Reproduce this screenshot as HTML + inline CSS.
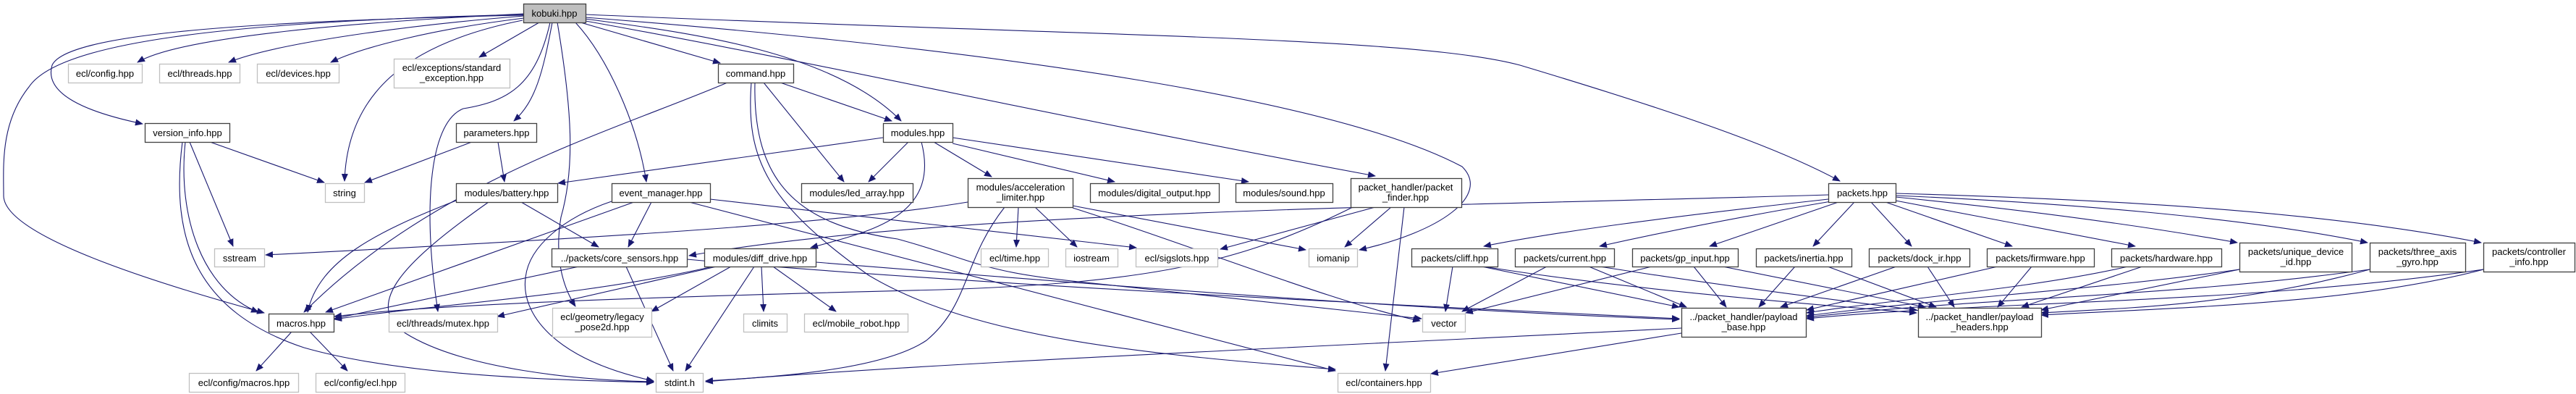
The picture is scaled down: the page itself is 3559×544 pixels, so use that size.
<!DOCTYPE html>
<html><head><meta charset="utf-8"><style>
html,body{margin:0;padding:0;background:#fff;width:3559px;height:544px;overflow:hidden}
svg{display:block}
text{font-family:"Liberation Sans",Arial,sans-serif;font-size:13px;fill:#000;text-anchor:middle}
.n{fill:#fff;stroke:#404040;stroke-width:1.3}
.g{fill:#fff;stroke:#bfbfbf;stroke-width:1.3}
.k{fill:#bfbfbf;stroke:#404040;stroke-width:1.3}
path.e{fill:none;stroke:#191970;stroke-width:1.1}
</style></head><body>
<svg width="3559" height="544" viewBox="0 0 3559 544" xmlns="http://www.w3.org/2000/svg">
<defs><marker id="a" markerUnits="userSpaceOnUse" markerWidth="11" markerHeight="9" refX="10" refY="4.5" orient="auto"><path d="M0,0 L11,4.5 L0,9 z" fill="#191970"/></marker></defs>
<g marker-end="url(#a)">
<!-- kobuki edges -->
<path class="e" d="M724,19 C500,30 250,50 190,86"/>
<path class="e" d="M724,22 C560,35 380,60 316,86"/>
<path class="e" d="M724,25 C600,40 500,65 457,86"/>
<path class="e" d="M745,31 L662,79"/>
<path class="e" d="M724,21 C300,30 90,50 72,90 C60,130 120,155 197,171"/>
<path class="e" d="M724,20 C300,30 80,60 40,120 C0,170 5,230 5,270 C5,330 250,400 365,432"/>
<path class="e" d="M722,28 C560,60 480,130 476,250"/>
<path class="e" d="M760,31 C740,120 700,140 640,150 C590,170 585,300 605,430"/>
<path class="e" d="M763,31 C750,100 740,140 710,167"/>
<path class="e" d="M770,31 C790,150 795,230 775,300 C765,360 780,400 795,423"/>
<path class="e" d="M795,31 C840,80 880,170 893,251"/>
<path class="e" d="M802,31 L995,87"/>
<path class="e" d="M808,26 C950,45 1150,70 1245,167"/>
<path class="e" d="M809,29 C1150,90 1400,150 1900,243"/>
<path class="e" d="M809,24 C1400,70 1850,140 2020,230 C2060,270 1990,320 1878,345"/>
<path class="e" d="M809,20 C1500,50 1950,50 2100,90 C2300,150 2450,200 2542,250"/>
<!-- version_info -->
<path class="e" d="M290,196 L448,252"/>
<path class="e" d="M262,196 L322,340"/>
<path class="e" d="M256,196 C245,300 280,400 357,431"/>
<path class="e" d="M252,196 C235,330 270,430 420,480 C560,520 780,525 903,528"/>
<!-- parameters -->
<path class="e" d="M652,196 L504,252"/>
<path class="e" d="M688,196 L697,251"/>
<!-- battery -->
<path class="e" d="M630,277 C520,320 440,360 425,431"/>
<path class="e" d="M720,279 L827,341"/>
<path class="e" d="M675,279 C560,360 500,420 560,460 C640,510 800,525 903,527"/>
<!-- event_manager -->
<path class="e" d="M876,279 L450,431"/>
<path class="e" d="M900,279 L868,341"/>
<path class="e" d="M845,278 C780,300 730,340 726,384 C720,430 760,495 903,526"/>
<path class="e" d="M981,275 L1570,342"/>
<path class="e" d="M952,279 L1845,512"/>
<!-- command -->
<path class="e" d="M1005,114 C850,180 600,250 420,431"/>
<path class="e" d="M1078,114 L1232,167"/>
<path class="e" d="M1055,114 L1166,251"/>
<path class="e" d="M1043,114 C1040,250 1100,310 1240,330 C1350,360 1350,375 1500,390 L1964,440"/>
<path class="e" d="M1038,114 C1030,220 1060,280 1200,380 C1350,470 1600,490 1845,510"/>
<!-- modules -->
<path class="e" d="M1220,190 L771,253"/>
<path class="e" d="M1255,196 L1200,251"/>
<path class="e" d="M1273,196 C1300,300 1200,320 1120,342"/>
<path class="e" d="M1290,196 L1370,244"/>
<path class="e" d="M1316,198 L1540,251"/>
<path class="e" d="M1316,190 L1725,251"/>
<!-- core sensors -->
<path class="e" d="M800,368 L462,440"/>
<path class="e" d="M865,368 L930,512"/>
<path class="e" d="M949,358 C1300,390 1900,420 2320,440"/>
<!-- acceleration limiter -->
<path class="e" d="M1337,279 C1150,310 800,330 367,352"/>
<path class="e" d="M1407,286 L1404,341"/>
<path class="e" d="M1430,286 L1488,341"/>
<path class="e" d="M1388,286 C1330,360 1340,420 1280,470 C1220,510 1080,520 975,526"/>
<path class="e" d="M1482,284 L1804,345"/>
<path class="e" d="M1482,287 C1650,340 1850,420 1962,443"/>
<!-- packet finder -->
<path class="e" d="M1922,286 L1858,341"/>
<path class="e" d="M1900,286 L1686,344"/>
<path class="e" d="M1869,286 C1720,360 1600,390 1300,400 C900,410 600,420 462,437"/>
<path class="e" d="M1940,286 L1914,512"/>
<!-- packets -->
<path class="e" d="M2526,269 C2000,285 1300,290 952,353"/>
<path class="e" d="M2526,275 C2300,300 2150,320 2050,340"/>
<path class="e" d="M2530,278 C2400,300 2300,320 2210,340"/>
<path class="e" d="M2540,279 L2362,340"/>
<path class="e" d="M2562,279 L2505,340"/>
<path class="e" d="M2585,279 L2641,340"/>
<path class="e" d="M2605,279 L2780,340"/>
<path class="e" d="M2619,277 L2950,340"/>
<path class="e" d="M2619,272 C2800,290 2950,310 3091,335"/>
<path class="e" d="M2619,270 C2850,280 3100,300 3271,335"/>
<path class="e" d="M2619,267 C2900,275 3200,290 3428,335"/>
<!-- diff_drive -->
<path class="e" d="M985,368 C800,410 600,420 462,441"/>
<path class="e" d="M990,368 C850,400 760,420 687,437"/>
<path class="e" d="M1010,368 L900,430"/>
<path class="e" d="M1042,368 L947,512"/>
<path class="e" d="M1052,368 L1055,430"/>
<path class="e" d="M1068,368 L1155,430"/>
<path class="e" d="M1127,362 C1600,400 2000,430 2320,441"/>
<!-- packet leaves -->
<path class="e" d="M2007,368 L1997,430"/>
<path class="e" d="M2047,368 L2320,424"/>
<path class="e" d="M2050,368 C2250,400 2500,420 2648,432"/>
<path class="e" d="M2137,368 L2020,430"/>
<path class="e" d="M2195,368 L2330,424"/>
<path class="e" d="M2210,368 C2350,390 2500,410 2648,428"/>
<path class="e" d="M2282,368 L2025,432"/>
<path class="e" d="M2340,368 L2385,424"/>
<path class="e" d="M2380,368 L2660,424"/>
<path class="e" d="M2480,368 L2430,424"/>
<path class="e" d="M2525,368 L2675,424"/>
<path class="e" d="M2620,368 L2460,424"/>
<path class="e" d="M2663,368 L2700,424"/>
<path class="e" d="M2760,368 L2496,428"/>
<path class="e" d="M2807,368 L2760,424"/>
<path class="e" d="M2940,368 C2800,400 2600,415 2496,432"/>
<path class="e" d="M2960,368 L2793,424"/>
<path class="e" d="M3094,372 C2900,400 2700,410 2496,436"/>
<path class="e" d="M3094,372 L2820,428"/>
<path class="e" d="M3274,372 C3000,410 2750,410 2496,438"/>
<path class="e" d="M3274,372 C3100,420 2950,425 2820,432"/>
<path class="e" d="M3431,372 C3100,420 2750,415 2496,440"/>
<path class="e" d="M3431,372 C3250,420 3000,425 2820,435"/>
<!-- payload base -->
<path class="e" d="M2323,453 C1800,480 1300,500 975,527"/>
<path class="e" d="M2323,460 L1977,516"/>
<!-- macros -->
<path class="e" d="M403,458 L354,512"/>
<path class="e" d="M428,458 L480,512"/>
</g>
<!-- nodes -->
<rect class="k" x="723.5" y="5.5" width="86" height="26"/><text x="766" y="23">kobuki.hpp</text>
<rect class="g" x="94.5" y="88.5" width="102" height="26"/><text x="145" y="106">ecl/config.hpp</text>
<rect class="g" x="220.5" y="88.5" width="111" height="26"/><text x="276" y="106">ecl/threads.hpp</text>
<rect class="g" x="355.5" y="88.5" width="113" height="26"/><text x="412" y="106">ecl/devices.hpp</text>
<rect class="g" x="544.5" y="81.5" width="160" height="40"/><text x="624" y="98">ecl/exceptions/standard</text><text x="624" y="112">_exception.hpp</text>
<rect class="n" x="992.5" y="88.5" width="104" height="26"/><text x="1044" y="106">command.hpp</text>
<rect class="n" x="200.5" y="170.5" width="117" height="26"/><text x="259" y="188">version_info.hpp</text>
<rect class="n" x="630.5" y="170.5" width="111" height="26"/><text x="686" y="188">parameters.hpp</text>
<rect class="n" x="1220.5" y="170.5" width="96" height="26"/><text x="1268" y="188">modules.hpp</text>
<rect class="g" x="449.5" y="253.5" width="54" height="26"/><text x="476" y="271">string</text>
<rect class="n" x="630.5" y="253.5" width="140" height="26"/><text x="700" y="271">modules/battery.hpp</text>
<rect class="n" x="845.5" y="253.5" width="136" height="26"/><text x="913" y="271">event_manager.hpp</text>
<rect class="n" x="1107.5" y="253.5" width="154" height="26"/><text x="1184" y="271">modules/led_array.hpp</text>
<rect class="n" x="1337.5" y="246.5" width="145" height="40"/><text x="1410" y="263">modules/acceleration</text><text x="1410" y="277">_limiter.hpp</text>
<rect class="n" x="1506.5" y="253.5" width="178" height="26"/><text x="1595" y="271">modules/digital_output.hpp</text>
<rect class="n" x="1707.5" y="253.5" width="134" height="26"/><text x="1774" y="271">modules/sound.hpp</text>
<rect class="n" x="1866.5" y="246.5" width="153" height="40"/><text x="1942" y="263">packet_handler/packet</text><text x="1942" y="277">_finder.hpp</text>
<rect class="n" x="2526.5" y="253.5" width="93" height="26"/><text x="2573" y="271">packets.hpp</text>
<rect class="g" x="296.5" y="343.5" width="69" height="25"/><text x="331" y="361">sstream</text>
<rect class="n" x="762.5" y="343.5" width="187" height="25"/><text x="856" y="361">../packets/core_sensors.hpp</text>
<rect class="n" x="973.5" y="343.5" width="154" height="25"/><text x="1050" y="361">modules/diff_drive.hpp</text>
<rect class="g" x="1355.5" y="343.5" width="93" height="25"/><text x="1402" y="361">ecl/time.hpp</text>
<rect class="g" x="1472.5" y="343.5" width="72" height="25"/><text x="1508" y="361">iostream</text>
<rect class="g" x="1569.5" y="343.5" width="113" height="25"/><text x="1626" y="361">ecl/sigslots.hpp</text>
<rect class="g" x="1808.5" y="343.5" width="67" height="25"/><text x="1842" y="361">iomanip</text>
<rect class="n" x="1950.5" y="343.5" width="119" height="25"/><text x="2010" y="361">packets/cliff.hpp</text>
<rect class="n" x="2093.5" y="343.5" width="137" height="25"/><text x="2162" y="361">packets/current.hpp</text>
<rect class="n" x="2255.5" y="343.5" width="146" height="25"/><text x="2328" y="361">packets/gp_input.hpp</text>
<rect class="n" x="2426.5" y="343.5" width="132" height="25"/><text x="2492" y="361">packets/inertia.hpp</text>
<rect class="n" x="2582.5" y="343.5" width="139" height="25"/><text x="2652" y="361">packets/dock_ir.hpp</text>
<rect class="n" x="2745.5" y="343.5" width="148" height="25"/><text x="2819" y="361">packets/firmware.hpp</text>
<rect class="n" x="2917.5" y="343.5" width="152" height="25"/><text x="2993" y="361">packets/hardware.hpp</text>
<rect class="n" x="3094.5" y="335.5" width="155" height="40"/><text x="3172" y="352">packets/unique_device</text><text x="3172" y="366">_id.hpp</text>
<rect class="n" x="3274.5" y="335.5" width="132" height="40"/><text x="3340" y="352">packets/three_axis</text><text x="3340" y="366">_gyro.hpp</text>
<rect class="n" x="3431.5" y="335.5" width="126" height="40"/><text x="3494" y="352">packets/controller</text><text x="3494" y="366">_info.hpp</text>
<rect class="n" x="371.5" y="433.5" width="90" height="25"/><text x="416" y="451">macros.hpp</text>
<rect class="g" x="537.5" y="433.5" width="150" height="25"/><text x="612" y="451">ecl/threads/mutex.hpp</text>
<rect class="g" x="763.5" y="425.5" width="137" height="40"/><text x="832" y="442">ecl/geometry/legacy</text><text x="832" y="456">_pose2d.hpp</text>
<rect class="g" x="1027.5" y="433.5" width="60" height="25"/><text x="1057" y="451">climits</text>
<rect class="g" x="1111.5" y="433.5" width="143" height="25"/><text x="1183" y="451">ecl/mobile_robot.hpp</text>
<rect class="g" x="1965.5" y="433.5" width="59" height="25"/><text x="1995" y="451">vector</text>
<rect class="n" x="2323.5" y="425.5" width="172" height="40"/><text x="2409" y="442">../packet_handler/payload</text><text x="2409" y="456">_base.hpp</text>
<rect class="n" x="2650.5" y="425.5" width="170" height="40"/><text x="2735" y="442">../packet_handler/payload</text><text x="2735" y="456">_headers.hpp</text>
<rect class="g" x="261.5" y="515.5" width="151" height="26"/><text x="337" y="533">ecl/config/macros.hpp</text>
<rect class="g" x="436.5" y="515.5" width="123" height="26"/><text x="498" y="533">ecl/config/ecl.hpp</text>
<rect class="g" x="906.5" y="515.5" width="65" height="26"/><text x="939" y="533">stdint.h</text>
<rect class="g" x="1848.5" y="515.5" width="128" height="26"/><text x="1912" y="533">ecl/containers.hpp</text>
</svg>
</body></html>
